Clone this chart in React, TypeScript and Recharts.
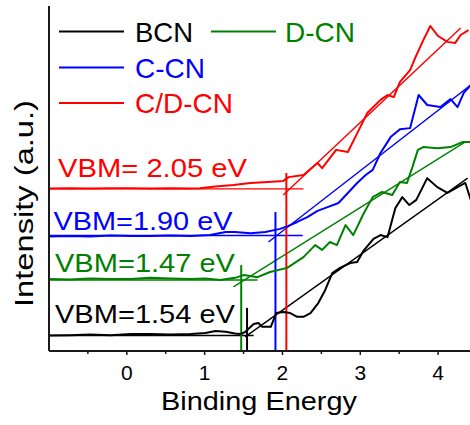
import React from 'react';
import { ComposedChart, Line, XAxis, YAxis, Customized } from 'recharts';

const FONT = '"Liberation Sans", Arial, Helvetica, sans-serif';
const AXIS_COLOR = '#1a1a1a';

// ---- Spectra (Binding energy in eV, intensity in a.u.) ----
const BCN_X = [-1.0, -0.73, -0.47, -0.21, 0.05, 0.3, 0.56, 0.82, 1.01, 1.14, 1.27, 1.39, 1.46, 1.52, 1.63, 1.69, 1.74, 1.85, 1.92, 2.01, 2.1, 2.19, 2.27, 2.36, 2.46, 2.55, 2.64, 2.74, 2.87, 2.96, 3.04, 3.17, 3.26, 3.35, 3.45, 3.54, 3.63, 3.72, 3.86, 3.99, 4.12, 4.25, 4.35, 4.42];
const BCN_Y = [4.5, 4.6, 4.8, 4.6, 4.9, 4.9, 4.8, 4.9, 5.2, 5.8, 5.6, 5.1, 4.9, 5.5, 7.8, 8.1, 7.0, 7.0, 11.0, 11.3, 11.0, 9.9, 9.9, 11.0, 13.9, 17.7, 22.6, 24.1, 25.5, 25.8, 29.0, 32.5, 33.6, 33.0, 41.4, 44.6, 42.3, 43.8, 50.1, 47.5, 45.8, 47.5, 48.7, 43.8];

const DCN_X = [-1.0, -0.73, -0.47, -0.21, 0.05, 0.3, 0.56, 0.82, 1.01, 1.2, 1.39, 1.5, 1.68, 1.84, 2.06, 2.27, 2.42, 2.51, 2.61, 2.7, 2.81, 2.91, 3.04, 3.16, 3.28, 3.41, 3.51, 3.6, 3.67, 3.74, 3.81, 3.99, 4.16, 4.32, 4.42];
const DCN_Y = [20.9, 20.7, 21.0, 20.9, 20.9, 21.2, 21.0, 20.9, 21.0, 20.6, 21.2, 22.0, 21.4, 22.9, 24.1, 27.2, 30.7, 29.3, 31.6, 30.7, 36.5, 33.6, 39.7, 44.6, 46.1, 45.2, 49.0, 48.7, 53.3, 58.3, 59.1, 58.8, 59.1, 60.6, 60.6];

const CCN_X = [-1.0, -0.73, -0.47, -0.21, 0.05, 0.3, 0.56, 0.82, 1.07, 1.27, 1.39, 1.59, 1.78, 1.97, 2.07, 2.19, 2.32, 2.45, 2.58, 2.72, 2.84, 2.96, 3.07, 3.16, 3.26, 3.39, 3.51, 3.64, 3.75, 3.86, 4.03, 4.16, 4.25, 4.33, 4.42];
const CCN_Y = [33.2, 33.3, 33.2, 33.5, 33.3, 33.3, 33.5, 33.3, 33.6, 34.5, 34.5, 34.1, 34.5, 35.4, 36.2, 37.4, 38.8, 40.6, 41.7, 42.9, 45.8, 48.7, 51.0, 52.5, 57.4, 62.0, 64.3, 64.6, 74.2, 71.3, 70.7, 73.0, 70.7, 74.8, 77.1];

const CDCN_X = [-1.0, -0.73, -0.47, -0.21, 0.05, 0.3, 0.56, 0.82, 0.94, 1.14, 1.37, 1.59, 1.81, 2.01, 2.08, 2.27, 2.45, 2.51, 2.69, 2.84, 3.0, 3.09, 3.26, 3.35, 3.43, 3.51, 3.64, 3.71, 3.81, 3.9, 4.0, 4.12, 4.22, 4.29, 4.39];
const CDCN_Y = [47.1, 47.2, 47.1, 47.2, 47.2, 47.1, 47.2, 47.1, 47.2, 47.7, 48.1, 48.7, 49.0, 49.3, 50.4, 51.0, 54.5, 53.0, 58.3, 57.7, 64.9, 69.0, 72.8, 74.2, 73.6, 78.0, 81.4, 85.2, 90.1, 94.2, 91.3, 89.6, 89.3, 91.6, 93.0];

// ---- Fit lines: baseline, tangent, VBM marker ----
const BCN_BASE_X = [-1.0, 1.63];
const BCN_BASE_Y = [4.5, 4.5];
const BCN_TAN_X = [1.52, 4.38];
const BCN_TAN_Y = [4.1, 50.1];
const BCN_VBM_X = [1.545, 1.545];
const BCN_VBM_Y = [0, 12.5];

const DCN_BASE_X = [-1.0, 1.68];
const DCN_BASE_Y = [20.6, 20.6];
const DCN_TAN_X = [1.37, 4.35];
const DCN_TAN_Y = [18.6, 60.6];
const DCN_VBM_X = [1.47, 1.47];
const DCN_VBM_Y = [0, 24.9];

const CCN_BASE_X = [-1.0, 2.26];
const CCN_BASE_Y = [33.5, 33.5];
const CCN_TAN_X = [1.82, 4.42];
const CCN_TAN_Y = [31.6, 77.1];
const CCN_VBM_X = [1.91, 1.91];
const CCN_VBM_Y = [0, 40.3];

const CDCN_BASE_X = [-1.0, 2.27];
const CDCN_BASE_Y = [47.0, 47.0];
const CDCN_TAN_X = [2.01, 4.29];
const CDCN_TAN_Y = [45.2, 93.6];
const CDCN_VBM_X = [2.05, 2.05];
const CDCN_VBM_Y = [0, 51.6];

const NAMES = ['BCN', 'D-CN', 'C-CN', 'C/D-CN'];
const COLORS = ['#000000', '#008000', '#0000ff', '#ff0000'];
const VBM_LABELS = ['VBM=1.54 eV', 'VBM=1.47 eV', 'VBM=1.90 eV', 'VBM= 2.05 eV'];

const X_TICKS = [-0.5, 0, 0.5, 1, 1.5, 2, 2.5, 3, 3.5, 4];
const X_DOMAIN = [-1, 4.5];
const Y_DOMAIN = [0, 100];

const pts = (xs: number[], ys: number[]) => xs.map((x, i) => ({ x, y: ys[i] }));

const CURVES = [pts(BCN_X, BCN_Y), pts(DCN_X, DCN_Y), pts(CCN_X, CCN_Y), pts(CDCN_X, CDCN_Y)];
const BASES = [pts(BCN_BASE_X, BCN_BASE_Y), pts(DCN_BASE_X, DCN_BASE_Y), pts(CCN_BASE_X, CCN_BASE_Y), pts(CDCN_BASE_X, CDCN_BASE_Y)];
const TANS = [pts(BCN_TAN_X, BCN_TAN_Y), pts(DCN_TAN_X, DCN_TAN_Y), pts(CCN_TAN_X, CCN_TAN_Y), pts(CDCN_TAN_X, CDCN_TAN_Y)];
const VBMS = [pts(BCN_VBM_X, BCN_VBM_Y), pts(DCN_VBM_X, DCN_VBM_Y), pts(CCN_VBM_X, CCN_VBM_Y), pts(CDCN_VBM_X, CDCN_VBM_Y)];

const XTick = (props: any) => {
  const { x, y, payload } = props;
  const v = payload.value as number;
  const major = Number.isInteger(v);
  return (
    <g>
      <line x1={x} x2={x} y1={y} y2={y + (major ? 4 : 3)} stroke={AXIS_COLOR} strokeWidth={1.5} />
      {major && (
        <text x={x} y={y + 29} textAnchor="middle" fontSize={21} fontFamily={FONT} fill="#000">
          {v}
        </text>
      )}
    </g>
  );
};

// legend layout (pixels)
const LEGEND_POS = [
  { lx: 59, ly: 31.5, tx: 135, w: 58 },
  { lx: 211, ly: 31.5, tx: 285, w: 70 },
  { lx: 59, ly: 67.5, tx: 135, w: 70 },
  { lx: 59, ly: 103, tx: 135, w: 98 },
];
const LABEL_POS = [
  { x: 55, y: 323, w: 180 },
  { x: 55, y: 271.5, w: 180 },
  { x: 53.5, y: 230, w: 179 },
  { x: 58, y: 177, w: 189 },
];

const Overlay = () => (
  <g fontFamily={FONT}>
    {NAMES.map((n, i) => (
      <g key={n}>
        <line x1={LEGEND_POS[i].lx} x2={LEGEND_POS[i].lx + 65} y1={LEGEND_POS[i].ly} y2={LEGEND_POS[i].ly} stroke={COLORS[i]} strokeWidth={2} />
        <text x={LEGEND_POS[i].tx} y={LEGEND_POS[i].ly + 10} fontSize={28} fill={COLORS[i]} textLength={LEGEND_POS[i].w} lengthAdjust="spacingAndGlyphs">
          {n}
        </text>
      </g>
    ))}
    {VBM_LABELS.map((t, i) => (
      <text key={t} x={LABEL_POS[i].x} y={LABEL_POS[i].y} fontSize={25} fill={COLORS[i]} textLength={LABEL_POS[i].w} lengthAdjust="spacingAndGlyphs">
        {t}
      </text>
    ))}
    <text x={161} y={410} fontSize={26} fill="#000" textLength={196} lengthAdjust="spacingAndGlyphs">
      Binding Energy
    </text>
    <text x={0} y={0} transform="translate(33,307) rotate(-90)" fontSize={26} fill="#000" textLength={207} lengthAdjust="spacingAndGlyphs">
      Intensity (a.u.)
    </text>
  </g>
);

export default function App() {
  return (
    <div style={{ position: 'absolute', left: 0, top: 0, width: 470, height: 425, overflow: 'hidden', background: '#fff' }}>
      <ComposedChart width={480} height={425} margin={{ top: 6, right: 3, left: 0, bottom: 0 }}>
        <XAxis
          dataKey="x"
          type="number"
          domain={X_DOMAIN}
          ticks={X_TICKS}
          allowDataOverflow
          height={74}
          tickSize={0}
          tickMargin={0}
          tickLine={false}
          tick={<XTick />}
          interval={0}
          axisLine={{ stroke: AXIS_COLOR, strokeWidth: 2 }}
        />
        <XAxis
          xAxisId="top"
          orientation="top"
          type="number"
          domain={X_DOMAIN}
          height={0}
          tick={false}
          tickLine={false}
          axisLine={{ stroke: AXIS_COLOR, strokeWidth: 2 }}
        />
        <YAxis
          type="number"
          domain={Y_DOMAIN}
          allowDataOverflow
          width={49}
          tick={false}
          tickLine={false}
          axisLine={{ stroke: AXIS_COLOR, strokeWidth: 2 }}
        />
        {BASES.map((d, i) => (
          <Line key={'b' + i} data={d} dataKey="y" stroke={COLORS[i]} strokeWidth={1.4} dot={false} isAnimationActive={false} legendType="none" />
        ))}
        {TANS.map((d, i) => (
          <Line key={'t' + i} data={d} dataKey="y" stroke={COLORS[i]} strokeWidth={1.4} dot={false} isAnimationActive={false} legendType="none" />
        ))}
        {VBMS.map((d, i) => (
          <Line key={'v' + i} data={d} dataKey="y" stroke={COLORS[i]} strokeWidth={2} dot={false} isAnimationActive={false} legendType="none" />
        ))}
        {CURVES.map((d, i) => (
          <Line key={'c' + i} data={d} dataKey="y" name={NAMES[i]} stroke={COLORS[i]} strokeWidth={2} dot={false} isAnimationActive={false} strokeLinejoin="round" />
        ))}
        <Customized component={Overlay} />
      </ComposedChart>
    </div>
  );
}
